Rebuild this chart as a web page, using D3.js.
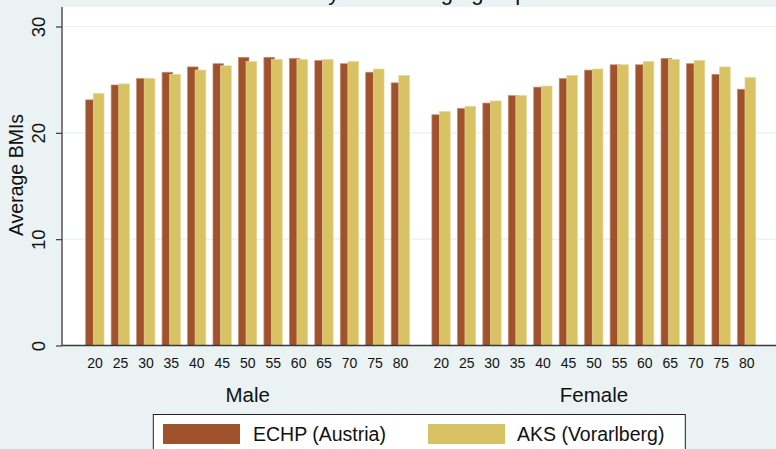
<!DOCTYPE html>
<html>
<head>
<meta charset="utf-8">
<script src="https://cdn.jsdelivr.net/npm/d3@7"></script>
<style>
  html, body { margin: 0; padding: 0; background: #eaf2f3; }
  svg { display: block; font-family: "Liberation Sans", Arial, sans-serif; }
</style>
</head>
<body>
<svg id="chart" width="776" height="449"></svg>
<script>
// Average BMI by age group, for each sex and survey
const ages = ["20", "25", "30", "35", "40", "45", "50", "55", "60", "65", "70", "75", "80"];
const sexes = ["Male", "Female"];
const seriesNames = ["ECHP (Austria)", "AKS (Vorarlberg)"];
const echpMale   = [23.1, 24.5, 25.1, 25.7, 26.2, 26.5, 27.1, 27.1, 27.0, 26.8, 26.5, 25.7, 24.7];
const aksMale    = [23.7, 24.6, 25.1, 25.5, 25.9, 26.3, 26.7, 26.9, 26.9, 26.9, 26.7, 26.0, 25.4];
const echpFemale = [21.7, 22.3, 22.8, 23.5, 24.3, 25.1, 25.9, 26.4, 26.4, 27.0, 26.5, 25.5, 24.1];
const aksFemale  = [22.0, 22.5, 23.0, 23.5, 24.4, 25.4, 26.0, 26.4, 26.7, 26.9, 26.8, 26.2, 25.2];
const yTicks = [0, 10, 20, 30];
const titleText = "Mean BMI by sex and age group";
const yTitle = "Average BMIs";

const colors = { echp: "#a0522d", aks: "#d8c263" };

const svg = d3.select("#chart");
const W = 776, H = 449;
const plot = { left: 62, right: 776, top: 7, bottom: 345.5 };

// background regions
svg.append("rect").attr("width", W).attr("height", H).attr("fill", "#eaf2f3");
svg.append("rect")
  .attr("x", plot.left).attr("y", plot.top)
  .attr("width", plot.right - plot.left).attr("height", plot.bottom - plot.top)
  .attr("fill", "#ffffff");

// scales: slot index along the axis; Female slots follow after a gap
const femaleOffset = 13.6;
const x = d3.scaleLinear().domain([0, femaleOffset + 12]).range([95, 746.7]);
const y = d3.scaleLinear().domain([0, 30]).range([plot.bottom, 26.5]);

// grid lines
svg.append("g").selectAll("line")
  .data(yTicks.filter(d => d > 0))
  .join("line")
  .attr("x1", plot.left).attr("x2", plot.right)
  .attr("y1", d => y(d)).attr("y2", d => y(d))
  .attr("stroke", "#e6eff1").attr("stroke-width", 1.2);

// bar records
const rows = [];
sexes.forEach((sex, si) => {
  const e = si === 0 ? echpMale : echpFemale;
  const a = si === 0 ? aksMale : aksFemale;
  ages.forEach((age, i) => {
    rows.push({ sex, age, slot: i + (si === 0 ? 0 : femaleOffset), echp: e[i], aks: a[i] });
  });
});

const bars = svg.append("g");
bars.selectAll("rect.echp")
  .data(rows)
  .join("rect")
  .attr("class", "echp")
  .attr("x", d => x(d.slot) - 9.3)
  .attr("width", 10.5)
  .attr("y", d => y(d.echp))
  .attr("height", d => y(0) - y(d.echp))
  .attr("fill", colors.echp)
  .attr("stroke", "#c28e74").attr("stroke-width", 0.7);

bars.selectAll("rect.aks")
  .data(rows)
  .join("rect")
  .attr("class", "aks")
  .attr("x", d => x(d.slot) - 1.7)
  .attr("width", 10.7)
  .attr("y", d => y(d.aks))
  .attr("height", d => y(0) - y(d.aks))
  .attr("fill", colors.aks)
  .attr("stroke", "#e6d69a").attr("stroke-width", 0.7);

// y axis
const yAxis = d3.axisLeft(y).tickValues(yTicks).tickSize(6).tickFormat(d3.format("d"));
const gy = svg.append("g").attr("transform", `translate(${plot.left},0)`).call(yAxis);
gy.select(".domain").attr("stroke", "#3a3a3a").attr("stroke-width", 1.3)
  .attr("d", `M0,${plot.top}V${plot.bottom}`);
gy.selectAll(".tick line").attr("stroke", "#3a3a3a").attr("stroke-width", 1.2);
gy.selectAll(".tick text")
  .attr("x", null).attr("dy", null)
  .attr("transform", "translate(-17,0) rotate(-90)")
  .attr("text-anchor", "middle")
  .attr("font-size", 18.5).attr("fill", "#111");

// x axis line
svg.append("line")
  .attr("x1", plot.left).attr("x2", plot.right)
  .attr("y1", plot.bottom).attr("y2", plot.bottom)
  .attr("stroke", "#3a3a3a").attr("stroke-width", 1.3);

// age labels
svg.append("g").selectAll("text")
  .data(rows)
  .join("text")
  .attr("x", d => x(d.slot))
  .attr("y", 368.3)
  .attr("text-anchor", "middle")
  .attr("font-size", 14).attr("fill", "#111")
  .text(d => d.age);

// sex labels
svg.append("g").selectAll("text")
  .data(sexes)
  .join("text")
  .attr("x", (d, i) => (x(i === 0 ? 0 : femaleOffset) + x((i === 0 ? 0 : femaleOffset) + 12)) / 2)
  .attr("y", 401.7)
  .attr("text-anchor", "middle")
  .attr("font-size", 20.5).attr("fill", "#111")
  .text(d => d);

// y title
svg.append("text")
  .attr("transform", `translate(23,175) rotate(-90)`)
  .attr("text-anchor", "middle")
  .attr("font-size", 19.5).attr("fill", "#111")
  .text(yTitle);

// title (runs off the top edge; only descenders remain in view)
svg.append("text")
  .attr("x", 527.5).attr("y", -0.5)
  .attr("text-anchor", "end")
  .attr("font-size", 22).attr("fill", "#111")
  .text(titleText);

// legend, centred under the plot region
const legend = svg.append("g");
legend.append("rect")
  .attr("x", 153.3).attr("y", 414.5)
  .attr("width", 532).attr("height", 50)
  .attr("fill", "#ffffff").attr("stroke", "#222").attr("stroke-width", 1);
const legItems = [
  { name: seriesNames[0], color: colors.echp, sx: 163, tx: 253 },
  { name: seriesNames[1], color: colors.aks,  sx: 428, tx: 517 }
];
legItems.forEach(it => {
  legend.append("rect")
    .attr("x", it.sx).attr("y", 424)
    .attr("width", 77).attr("height", 20)
    .attr("fill", it.color);
  legend.append("text")
    .attr("x", it.tx).attr("y", 441)
    .attr("font-size", 19.5).attr("fill", "#111")
    .text(it.name);
});
</script>
</body>
</html>
